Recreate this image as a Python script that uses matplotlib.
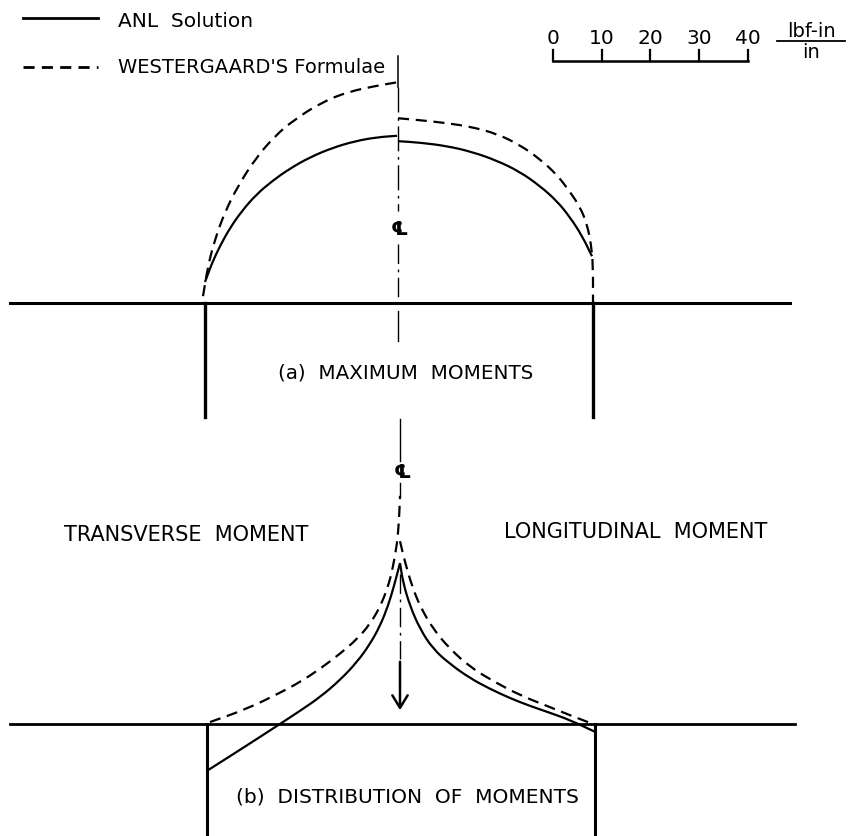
import numpy as np
import matplotlib
matplotlib.use("Agg")
import matplotlib.pyplot as plt
from matplotlib.path import Path
from matplotlib.patches import PathPatch

# ---------------- data (moments in lbf-in/in, stations in drawing units) -------------
# Panel (a): maximum moments
a_left_W_x = [203, 208, 215, 225, 238, 255, 275, 295, 322, 348, 375, 398]
a_left_W_m = [1.4, 7.6, 13.1, 18.7, 24.0, 29.5, 34.3, 37.7, 41.2, 43.3, 44.5, 45.3]
a_left_A_x = [205, 212, 220, 230, 242, 256, 272, 290, 310, 332, 355, 377, 397]
a_left_A_m = [4.3, 8.2, 11.7, 15.4, 18.9, 22.2, 25.0, 27.6, 29.9, 31.8, 33.2, 34.0, 34.3]
a_right_A_x = [398, 420, 447, 472, 497, 520, 540, 557, 570, 582, 592]
a_right_A_m = [33.2, 32.9, 32.2, 31.0, 29.2, 26.9, 24.0, 20.9, 17.6, 13.8, 9.6]
a_right_W_x = [398, 420, 447, 472, 497, 520, 540, 557, 570, 580, 587, 591, 593, 593]
a_right_W_m = [37.9, 37.5, 36.9, 36.1, 34.7, 32.4, 29.5, 26.3, 22.8, 19.7, 16.2, 12.1, 8.0, 0.0]

# Panel (b): distribution of moments
b_left_W_x = [210, 247, 280, 300, 320, 340, 357, 370, 380, 388, 393, 397, 399, 400]
b_left_W_m = [0.4, 3.1, 6.4, 8.6, 11.3, 14.4, 17.4, 20.5, 24.0, 28.1, 32.2, 36.9, 41.6, 46.8]
b_left_A_x = [207, 240, 280, 300, 320, 340, 357, 370, 380, 388, 394, 400]
b_left_A_m = [-9.6, -5.3, 0.0, 2.7, 5.5, 9.0, 12.7, 16.4, 20.1, 24.2, 28.3, 33.0]
b_right_A_x = [400, 403, 410, 420, 433, 450, 470, 490, 510, 530, 550, 570, 595]
b_right_A_m = [33.0, 29.1, 24.2, 19.5, 15.4, 12.3, 9.4, 7.2, 5.3, 3.7, 2.3, 0.8, -1.6]
b_right_W_x = [400, 405, 412, 420, 433, 450, 470, 493, 520, 547, 570, 593]
b_right_W_m = [37.5, 33.2, 28.3, 24.2, 19.5, 15.4, 11.7, 8.8, 5.9, 3.7, 1.8, 0.0]

scale_ticks = [0, 10, 20, 30, 40]

# ---------------- geometry / style ----------------
PX_PER_UNIT = 4.875          # drawing units per lbf-in/in (scale bar)
BASE_A, BASE_B = 304, 725
SUP_A = (205, 593)
SUP_B = (207, 595)
CL_A, CL_B = 398, 400
DASH = (0, (5, 3))
LW = 1.6

fig = plt.figure(figsize=(8.49, 8.37), dpi=100)
ax = fig.add_axes([0, 0, 1, 1])
ax.set_xlim(0, 849)
ax.set_ylim(837, 0)
ax.axis("off")


def smooth_path(xs, ys):
    """Quadratic B-spline path (mid-point construction) through the end points."""
    P = np.column_stack([xs, ys]).astype(float)
    n = len(P)
    if n < 3:
        return Path(P)
    mids = (P[:-1] + P[1:]) / 2.0
    verts = [P[0], mids[0]]
    codes = [Path.MOVETO, Path.LINETO]
    for i in range(1, n - 1):
        verts += [P[i], mids[i]]
        codes += [Path.CURVE3, Path.CURVE3]
    verts.append(P[-1])
    codes.append(Path.LINETO)
    return Path(verts, codes)


def curve(xs, ms, base, dashed=False):
    ys = base - np.asarray(ms) * PX_PER_UNIT
    patch = PathPatch(smooth_path(xs, ys), fill=False, edgecolor="black", lw=LW,
                      ls=DASH if dashed else "-", capstyle="butt", joinstyle="round")
    ax.add_patch(patch)


FONT = dict(family="DejaVu Sans", color="black")

# ---- legend ----
ax.plot([23, 98], [19, 19], color="black", lw=2)
ax.plot([23, 98], [68, 68], color="black", lw=2, ls=(0, (4, 2.6)))
ax.text(118, 21, "ANL  Solution", fontsize=14.5, va="center", ha="left", **FONT)
ax.text(118, 67, "WESTERGAARD'S Formulae", fontsize=14, va="center", ha="left", **FONT)

# ---- scale bar ----
sx0 = 553
bar_x = [sx0 + t * PX_PER_UNIT for t in scale_ticks]
ax.plot([bar_x[0], bar_x[-1]], [62, 62], color="black", lw=1.8)
for t, bx in zip(scale_ticks, bar_x):
    ax.plot([bx, bx], [51, 62], color="black", lw=1.6)
    ax.text(bx, 38, str(t), fontsize=14.5, ha="center", va="center", **FONT)
ax.text(811, 31, "lbf-in", fontsize=14, ha="center", va="center", **FONT)
ax.plot([777, 845], [42, 42], color="black", lw=1.3)
ax.text(811, 52, "in", fontsize=14, ha="center", va="center", **FONT)

# ---- panel (a) ----
ax.plot([10, 790], [BASE_A, BASE_A], color="black", lw=2.2)
for sx in SUP_A:
    ax.plot([sx, sx], [BASE_A, 418], color="black", lw=2.4)
curve(a_left_W_x, a_left_W_m, BASE_A, dashed=True)
curve(a_left_A_x, a_left_A_m, BASE_A)
curve(a_right_A_x, a_right_A_m, BASE_A)
curve(a_right_W_x, a_right_W_m, BASE_A, dashed=True)
# centre line (a)
ax.plot([CL_A, CL_A], [57, 88], color="black", lw=1.1)
ax.plot([CL_A, CL_A], [88, 212], color="black", lw=1.0, ls=(0, (18, 4, 2, 4)))
ax.plot([CL_A, CL_A], [245, 304], color="black", lw=1.0, ls=(0, (14, 4, 2, 4)))
ax.plot([CL_A, CL_A], [312, 342], color="black", lw=1.0)
ax.text(CL_A + 2, 229, "\u2104", fontsize=14, ha="center", va="center", fontweight="bold", **FONT)
ax.text(406, 373, "(a)  MAXIMUM  MOMENTS", fontsize=14.3, ha="center", va="center", **FONT)

# ---- panel (b) ----
ax.plot([10, 795], [BASE_B, BASE_B], color="black", lw=2.0)
for sx in SUP_B:
    ax.plot([sx, sx], [BASE_B, 837], color="black", lw=2.2)
curve(b_left_W_x, b_left_W_m, BASE_B, dashed=True)
curve(b_left_A_x, b_left_A_m, BASE_B)
curve(b_right_A_x, b_right_A_m, BASE_B)
curve(b_right_W_x, b_right_W_m, BASE_B, dashed=True)
# centre line (b)
ax.plot([CL_B, CL_B], [420, 462], color="black", lw=1.0)
ax.text(CL_B + 3, 472, "\u2104", fontsize=14, ha="center", va="center", fontweight="bold", **FONT)
ax.plot([CL_B, CL_B], [484, 498], color="black", lw=1.0)
ax.plot([CL_B, CL_B], [575, 660], color="black", lw=1.0, ls=(0, (14, 4, 2, 4)))
ax.annotate("", xy=(CL_B, 714), xytext=(CL_B, 660),
            arrowprops=dict(arrowstyle="->,head_length=0.9,head_width=0.55", lw=1.8, color="black"))

ax.text(186, 535, "TRANSVERSE  MOMENT", fontsize=15, ha="center", va="center", **FONT)
ax.text(636, 532, "LONGITUDINAL  MOMENT", fontsize=15, ha="center", va="center", **FONT)
ax.text(407, 797, "(b)  DISTRIBUTION  OF  MOMENTS", fontsize=14.5, ha="center", va="center", **FONT)

fig.savefig("out.png", dpi=100, facecolor="white")
